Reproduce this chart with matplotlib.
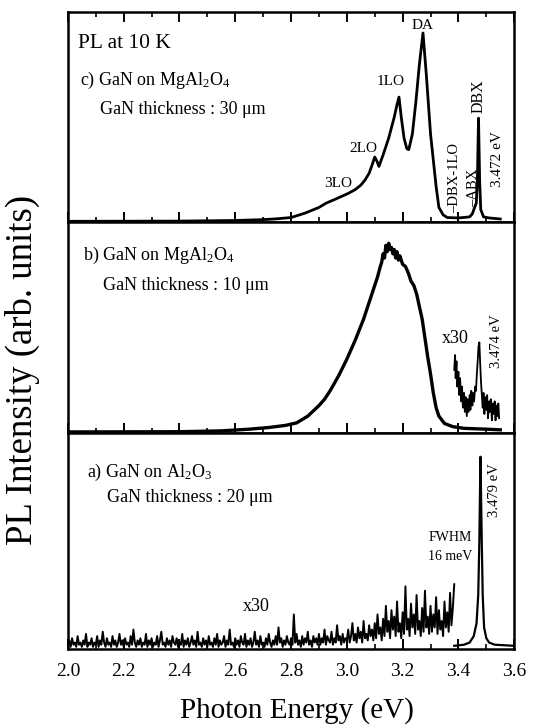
import numpy as np
import matplotlib
matplotlib.use("Agg")
import matplotlib.pyplot as plt
from matplotlib.ticker import MultipleLocator

plt.rcParams['font.family'] = ['Liberation Serif', 'DejaVu Serif']
plt.rcParams['mathtext.fontset'] = 'custom'
plt.rcParams['mathtext.rm'] = 'Liberation Serif'
plt.rcParams['mathtext.it'] = 'Liberation Serif:italic'

# ---------------- data ----------------
# c) GaN on MgAl2O4, 30 um
c_energy = [2.00, 2.40, 2.60, 2.70, 2.75, 2.80, 2.85, 2.90, 2.925, 2.96, 3.007, 3.03, 3.05,
            3.065, 3.08, 3.09, 3.10, 3.108, 3.115, 3.13, 3.15, 3.17, 3.18, 3.187, 3.195,
            3.205, 3.215, 3.222, 3.235, 3.248, 3.26, 3.273, 3.285, 3.30, 3.32, 3.33, 3.345,
            3.36, 3.40, 3.44, 3.45, 3.458, 3.464, 3.468, 3.472, 3.476, 3.48, 3.49, 3.51, 3.55]
c_int = [0.004, 0.005, 0.008, 0.012, 0.016, 0.022, 0.043, 0.07, 0.09, 0.11, 0.138, 0.155, 0.176,
         0.20, 0.233, 0.27, 0.31, 0.29, 0.265, 0.32, 0.40, 0.50, 0.56, 0.595, 0.50,
         0.40, 0.35, 0.345, 0.42, 0.58, 0.75, 0.90, 0.70, 0.42, 0.17, 0.07, 0.035,
         0.022, 0.02, 0.025, 0.04, 0.07, 0.09, 0.20, 0.495, 0.20, 0.06, 0.025, 0.02, 0.015]

# b) GaN on MgAl2O4, 10 um
b_energy = [2.00, 2.40, 2.55, 2.65, 2.72, 2.78, 2.82, 2.86, 2.88, 2.90, 2.92, 2.94, 2.97, 3.00,
            3.03, 3.06, 3.08, 3.10, 3.11, 3.12, 3.125, 3.13, 3.135, 3.14, 3.145, 3.15, 3.155,
            3.16, 3.165, 3.17, 3.175, 3.18, 3.185, 3.19, 3.20, 3.21, 3.22, 3.23, 3.24, 3.25,
            3.26, 3.27, 3.28, 3.29, 3.30, 3.31, 3.32, 3.33, 3.35, 3.38, 3.42, 3.46, 3.50, 3.55]
b_int = [0.005, 0.006, 0.010, 0.018, 0.026, 0.036, 0.048, 0.08, 0.105, 0.13, 0.16, 0.20, 0.27,
         0.35, 0.44, 0.54, 0.62, 0.70, 0.74, 0.79, 0.81, 0.85, 0.83, 0.89, 0.86, 0.90, 0.87,
         0.88, 0.85, 0.87, 0.83, 0.86, 0.82, 0.84, 0.80, 0.79, 0.76, 0.72, 0.70, 0.66,
         0.60, 0.54, 0.45, 0.36, 0.28, 0.19, 0.12, 0.08, 0.045, 0.03, 0.022, 0.02, 0.018, 0.015]

# b) x30 magnified band-edge trace
b30_energy = [3.385, 3.388, 3.39, 3.393, 3.396, 3.40, 3.403, 3.406, 3.41, 3.413, 3.416, 3.42,
              3.423, 3.426, 3.43, 3.433, 3.436, 3.44, 3.443, 3.446, 3.45, 3.453, 3.456, 3.46,
              3.463, 3.466, 3.469, 3.472, 3.475, 3.478, 3.481, 3.484, 3.487, 3.49, 3.493,
              3.496, 3.50, 3.503, 3.506, 3.51, 3.513, 3.516, 3.52, 3.523, 3.526, 3.53, 3.533,
              3.536, 3.54, 3.543, 3.546]
b30_int = [0.30, 0.37, 0.26, 0.34, 0.22, 0.29, 0.18, 0.26, 0.15, 0.22, 0.12, 0.19,
           0.10, 0.17, 0.08, 0.16, 0.10, 0.18, 0.11, 0.20, 0.13, 0.19, 0.15, 0.22,
           0.20, 0.28, 0.34, 0.41, 0.43, 0.33, 0.24, 0.18, 0.12, 0.19, 0.09,
           0.17, 0.11, 0.18, 0.07, 0.15, 0.10, 0.16, 0.06, 0.14, 0.09, 0.15, 0.06,
           0.13, 0.08, 0.14, 0.07]

# a) GaN on Al2O3, 20 um : main trace
a_energy = [3.385, 3.42, 3.44, 3.455, 3.465, 3.471, 3.475, 3.479, 3.483, 3.487, 3.492,
            3.50, 3.51, 3.53, 3.60]
a_int = [0.015, 0.02, 0.03, 0.06, 0.12, 0.25, 0.50, 0.89, 0.55, 0.25, 0.10,
         0.05, 0.03, 0.02, 0.015]

# a) x30 magnified trace, 2.000 ... 3.385 eV in 0.005 eV steps
a30_start, a30_step = 2.00, 0.005
a30_int = [
    0.02, 0.04, 0.01, 0.05, 0.02, 0.03, 0.01, 0.06, 0.02, 0.03, 0.01, 0.04, 0.02, 0.07, 0.01, 0.03, 0.02, 0.05, 0.01, 0.03,
    0.02, 0.06, 0.01, 0.04, 0.02, 0.08, 0.03, 0.01, 0.05, 0.02, 0.03, 0.01, 0.06, 0.02, 0.04, 0.01, 0.03, 0.07, 0.02, 0.04,
    0.01, 0.05, 0.02, 0.03, 0.01, 0.06, 0.02, 0.09, 0.03, 0.01, 0.04, 0.02, 0.05, 0.01, 0.03, 0.02, 0.07, 0.01, 0.04, 0.02,
    0.05, 0.01, 0.03, 0.02, 0.06, 0.01, 0.04, 0.08, 0.02, 0.03, 0.01, 0.05, 0.02, 0.04, 0.01, 0.06, 0.03, 0.02, 0.05, 0.01,
    0.03, 0.02, 0.07, 0.01, 0.04, 0.02, 0.05, 0.01, 0.03, 0.06, 0.02, 0.04, 0.01, 0.08, 0.02, 0.03, 0.01, 0.05, 0.02, 0.04,
    0.01, 0.06, 0.02, 0.03, 0.01, 0.05, 0.02, 0.07, 0.01, 0.04, 0.02, 0.03, 0.06, 0.01, 0.04, 0.02, 0.09, 0.02, 0.03, 0.01,
    0.05, 0.02, 0.04, 0.01, 0.06, 0.03, 0.02, 0.07, 0.01, 0.04, 0.02, 0.05, 0.01, 0.03, 0.08, 0.02, 0.04, 0.01, 0.06, 0.02,
    0.03, 0.01, 0.05, 0.02, 0.07, 0.03, 0.01, 0.04, 0.02, 0.06, 0.02, 0.10, 0.03, 0.05, 0.01, 0.04, 0.02, 0.06, 0.03, 0.02,
    0.05, 0.02, 0.16, 0.03, 0.07, 0.02, 0.04, 0.01, 0.06, 0.02, 0.05, 0.03, 0.08, 0.02, 0.04, 0.01, 0.06, 0.03, 0.05, 0.02,
    0.07, 0.02, 0.05, 0.03, 0.09, 0.02, 0.06, 0.04, 0.03, 0.08, 0.02, 0.05, 0.03, 0.11, 0.04, 0.06, 0.02, 0.07, 0.03, 0.05,
    0.04, 0.09, 0.03, 0.06, 0.12, 0.04, 0.07, 0.03, 0.10, 0.05, 0.08, 0.03, 0.13, 0.05, 0.07, 0.04, 0.11, 0.06, 0.09, 0.04,
    0.12, 0.05, 0.16, 0.07, 0.10, 0.04, 0.14, 0.06, 0.20, 0.08, 0.13, 0.05, 0.18, 0.09, 0.15, 0.06, 0.22, 0.08, 0.12, 0.05,
    0.17, 0.07, 0.29, 0.09, 0.14, 0.06, 0.21, 0.10, 0.16, 0.07, 0.25, 0.09, 0.13, 0.06, 0.19, 0.08, 0.27, 0.10, 0.15, 0.07,
    0.20, 0.08, 0.16, 0.10, 0.24, 0.07, 0.18, 0.09, 0.13, 0.06, 0.22, 0.10, 0.17, 0.08, 0.26, 0.11, 0.19, 0.30]
a30_energy = a30_start + a30_step * np.arange(len(a30_int))

x_ticks = [2.0, 2.2, 2.4, 2.6, 2.8, 3.0, 3.2, 3.4, 3.6]
x_ticklabels = ["2.0", "2.2", "2.4", "2.6", "2.8", "3.0", "3.2", "3.4", "3.6"]

# ---------------- figure ----------------
fig = plt.figure(figsize=(5.43, 7.26), dpi=100)
L, W = 0.125, 0.822
ax_c = fig.add_axes([L, 0.694, W, 0.2895])
ax_b = fig.add_axes([L, 0.4036, W, 0.2904])
ax_a = fig.add_axes([L, 0.106, W, 0.2976])

for ax in (ax_c, ax_b, ax_a):
    ax.set_xlim(2.0, 3.6)
    ax.set_ylim(0, 1)
    ax.set_yticks([])
    ax.set_xticks(x_ticks)
    ax.xaxis.set_minor_locator(MultipleLocator(0.1))
    ax.tick_params(axis='x', which='major', direction='in', length=7, width=1.4)
    ax.tick_params(axis='x', which='minor', direction='in', length=3.5, width=1.2)
    for s in ax.spines.values():
        s.set_linewidth(1.8)
    ax.set_xticklabels([])

ax_c.tick_params(axis='x', which='both', top=True)
ax_a.set_xticklabels(x_ticklabels, fontsize=14)
ax_a.tick_params(axis='x', which='major', pad=10)

# spectra
ax_c.plot(c_energy, c_int, color='black', lw=2.0)
ax_b.plot(b_energy, b_int, color='black', lw=2.4)
ax_b.plot(b30_energy, b30_int, color='black', lw=1.3)
ax_a.plot(a30_energy, a30_int, color='black', lw=1.4)
ax_a.plot(a_energy, a_int, color='black', lw=1.6)

# panel c text
fig.text(78/543, 1 - 43/726, "PL at 10 K", fontsize=15.5, va='center', ha='left')
fig.text(80/543, 1 - 80/726, r"c) GaN on MgAl$_2$O$_4$", fontsize=13, va='center', ha='left')
fig.text(100/543, 1 - 110/726, "GaN thickness : 30 \u03bcm", fontsize=13, va='center', ha='left')
ax_c.text(3.273, 0.935, "DA", fontsize=11, ha='center', va='center')
ax_c.text(3.158, 0.667, "1LO", fontsize=11, ha='center', va='center')
ax_c.text(3.058, 0.35, "2LO", fontsize=11, ha='center', va='center')
ax_c.text(2.968, 0.186, "3LO", fontsize=11, ha='center', va='center')
ax_c.text(3.385, 0.045, "\u2013DBX-1LO", fontsize=10.5, rotation=90, ha='center', va='bottom')
ax_c.text(3.455, 0.07, "\u2013ABX", fontsize=10.5, rotation=90, ha='center', va='bottom')
ax_c.text(3.474, 0.52, "DBX", fontsize=11.5, rotation=90, ha='center', va='bottom')
ax_c.text(3.54, 0.165, "3.472 eV", fontsize=11, rotation=90, ha='center', va='bottom')

# panel b text
fig.text(83/543, 1 - 255/726, r"b) GaN on MgAl$_2$O$_4$", fontsize=13, va='center', ha='left')
fig.text(103/543, 1 - 286/726, "GaN thickness : 10 \u03bcm", fontsize=13, va='center', ha='left')
ax_b.text(3.39, 0.45, "x30", fontsize=13, ha='center', va='center')
ax_b.text(3.536, 0.31, "3.474 eV", fontsize=10.5, rotation=90, ha='center', va='bottom')

# panel a text
fig.text(87/543, 1 - 472/726, r"a) GaN on Al$_2$O$_3$", fontsize=13, va='center', ha='left')
fig.text(107/543, 1 - 498/726, "GaN thickness : 20 \u03bcm", fontsize=13, va='center', ha='left')
ax_a.text(2.676, 0.195, "x30", fontsize=13, ha='center', va='center')
ax_a.text(3.37, 0.516, "FWHM", fontsize=10, ha='center', va='center')
ax_a.text(3.37, 0.43, "16 meV", fontsize=10, ha='center', va='center')
ax_a.text(3.529, 0.61, "3.479 eV", fontsize=10.5, rotation=90, ha='center', va='bottom')

# axis labels
fig.text(297/543, 1 - 711/726, "Photon Energy (eV)", fontsize=21, ha='center', va='center')
fig.text(22/543, 1 - 370/726, "PL Intensity (arb. units)", fontsize=26.5, rotation=90,
         ha='center', va='center')

fig.savefig("out.png", dpi=100)
